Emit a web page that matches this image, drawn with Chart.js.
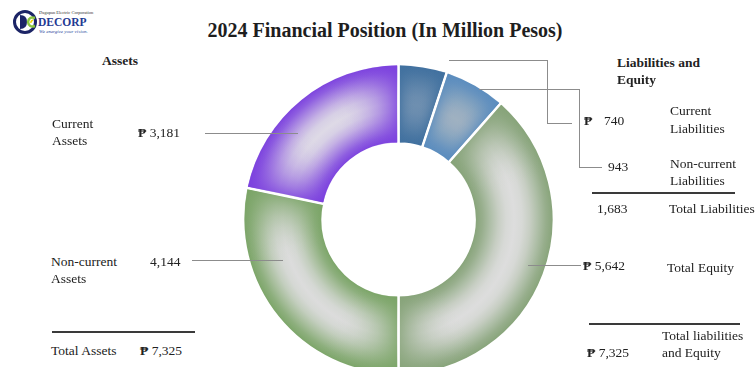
<!DOCTYPE html>
<html>
<head>
<meta charset="utf-8">
<script src="https://cdn.jsdelivr.net/npm/chart.js@4"></script>
<style>
    html, body { margin: 0; padding: 0; background: #fff; width: 756px; height: 367px; overflow: hidden; }
    body { position: relative; font-family: "Liberation Serif", "Times New Roman", serif; color: #222; }
    .t { position: absolute; font-size: 13.5px; line-height: 17px; white-space: nowrap; }
    .b { font-weight: bold; }
    .hl { position: absolute; height: 0; border-top: 1px solid #8c8c8c; }
    .vl { position: absolute; width: 0; border-left: 1px solid #8c8c8c; }
    .rule { position: absolute; height: 0; border-top: 2px solid #3a3a3a; }
    #title { position: absolute; left: 0; width: 770px; top: 18px; text-align: center; font-size: 20px; line-height: 24px; font-weight: bold; color: #1e1e1e; }
    #pie { position: absolute; left: 242px; top: 63px; width: 313px; height: 313px; }
    #logo { position: absolute; left: 13px; top: 9px; }
    .lg { position: absolute; white-space: nowrap; font-family: "Liberation Serif", serif; }
</style>
</head>
<body>
<svg id="logo" width="26" height="27" viewBox="0 0 26 27">
    <circle cx="12" cy="13" r="10.5" fill="#fff" stroke="#1c2466" stroke-width="3"/>
    <path d="M7 6 L7 20 Q14 20 14 13 Q14 6 7 6 Z" fill="#1c2466"/>
    <path d="M22 9 Q16 7 15 13 Q16 19 22 17" fill="none" stroke="#8cc63f" stroke-width="2.5"/>
    <path d="M20 11 Q17.5 12 18 14" fill="none" stroke="#f2d600" stroke-width="1.5"/>
</svg>
<div class="lg" style="left:39px;top:10px;font-size:4.5px;color:#333;">Dagupan Electric Corporation</div>
<div class="lg" style="left:38px;top:16px;font-size:11.5px;font-weight:bold;color:#1f3a93;line-height:12px;">DECORP</div>
<div class="lg" style="left:39px;top:29px;font-size:5px;font-style:italic;color:#2a4aa0;">We energize your vision.</div>

<div id="title">2024 Financial Position (In Million Pesos)</div>
<div id="pie"><canvas id="chart"></canvas></div>

<script>
// Slices run clockwise from 12 o'clock: liabilities and equity on the right, assets on the left
const sliceLabels = ['Current Liabilities', 'Non-current Liabilities', 'Total Equity', 'Non-current Assets', 'Current Assets'];
const sliceValues = [740, 943, 5642, 4144, 3181];
const edgeColors = ['#40709f', '#5a8cbe', '#86a378', '#7aa466', '#7b40de'];
const centerColors = ['#6e8fb0', '#9fb1c1', '#dddddd', '#dcdcdc', '#dedae6'];

const fmt = v => v.toLocaleString('en-US');
const currentLiab = sliceValues[0], nonCurrentLiab = sliceValues[1], equity = sliceValues[2];
const nonCurrentAssets = sliceValues[3], currentAssets = sliceValues[4];
const totalLiab = currentLiab + nonCurrentLiab;
const totalAssets = currentAssets + nonCurrentAssets;
const totalLiabEquity = totalLiab + equity;

function rgb(hex) {
    const n = parseInt(hex.slice(1), 16);
    return [n >> 16, (n >> 8) & 255, n & 255];
}
function mix(a, b, w) {
    const ca = rgb(a), cb = rgb(b);
    return `rgb(${ca.map((v, k) => Math.round(v + (cb[k] - v) * w)).join(',')})`;
}
function rgba(hex, a) {
    return `rgba(${rgb(hex).join(',')}, ${a})`;
}

// soft light band along the middle of the ring
function ringFill(context) {
    const i = context.dataIndex;
    const chart = context.chart;
    const area = chart.chartArea;
    if (i === undefined) return edgeColors[0];
    const ctrl = chart.getDatasetMeta(0).controller;
    if (!area || !ctrl.outerRadius) return edgeColors[i];
    const cx = (area.left + area.right) / 2, cy = (area.top + area.bottom) / 2;
    const g = chart.ctx.createRadialGradient(cx, cy, ctrl.innerRadius, cx, cy, ctrl.outerRadius);
    for (let s = 0; s <= 10; s++) {
        const t = s / 10;
        g.addColorStop(t, mix(edgeColors[i], centerColors[i], Math.pow(Math.sin(Math.PI * t), 1.4)));
    }
    return g;
}

// deepen the colour toward both ends of every slice
const endShade = {
    id: 'endShade',
    afterDatasetsDraw(chart) {
        const ctx = chart.ctx;
        const gap = 1.4;
        chart.getDatasetMeta(0).data.forEach((arc, i) => {
            const p = arc.getProps(['x', 'y', 'startAngle', 'endAngle', 'innerRadius', 'outerRadius'], true);
            const span = p.endAngle - p.startAngle;
            const frac = span / (2 * Math.PI);
            const fade = Math.min(span * 0.45, 0.55) / (2 * Math.PI);
            const g = ctx.createConicGradient(p.startAngle, p.x, p.y);
            for (let s = 0; s <= 6; s++) {
                const a = 0.85 * Math.pow(1 - s / 6, 2);
                g.addColorStop(fade * s / 6, rgba(edgeColors[i], a));
            }
            for (let s = 6; s >= 0; s--) {
                const a = 0.85 * Math.pow(1 - s / 6, 2);
                g.addColorStop(frac - fade * s / 6, rgba(edgeColors[i], a));
            }
            ctx.save();
            ctx.beginPath();
            ctx.arc(p.x, p.y, p.outerRadius - 1, p.startAngle + gap / p.outerRadius, p.endAngle - gap / p.outerRadius);
            ctx.arc(p.x, p.y, p.innerRadius + 1, p.endAngle - gap / p.innerRadius, p.startAngle + gap / p.innerRadius, true);
            ctx.closePath();
            ctx.fillStyle = g;
            ctx.fill();
            ctx.restore();
        });
    }
};

new Chart(document.getElementById('chart'), {
    type: 'doughnut',
    data: {
        labels: sliceLabels,
        datasets: [{
            data: sliceValues,
            backgroundColor: ringFill,
            borderColor: '#ffffff',
            borderWidth: 2.5
        }]
    },
    options: {
        responsive: true,
        maintainAspectRatio: false,
        animation: false,
        cutout: '49%',
        layout: { padding: 0 },
        plugins: {
            legend: { display: false },
            tooltip: { enabled: false }
        }
    },
    plugins: [endShade]
});

// side annotations
function put(html, x, baseline, cls) {
    const d = document.createElement('div');
    d.className = 't' + (cls ? ' ' + cls : '');
    d.style.left = x + 'px';
    d.style.top = (baseline - 13) + 'px';
    d.innerHTML = html;
    document.body.appendChild(d);
}
function hline(x1, x2, y, cls) {
    const d = document.createElement('div');
    d.className = cls || 'hl';
    d.style.left = x1 + 'px';
    d.style.top = y + 'px';
    d.style.width = (x2 - x1) + 'px';
    document.body.appendChild(d);
}
function vline(x, y1, y2) {
    const d = document.createElement('div');
    d.className = 'vl';
    d.style.left = x + 'px';
    d.style.top = y1 + 'px';
    d.style.height = (y2 - y1) + 'px';
    document.body.appendChild(d);
}
const peso = '<span class="b">&#8369;</span>';

// assets side
put('Assets', 102, 65, 'b');
put('Current', 52, 128);
put('Assets', 52, 145);
put(peso + ' ' + fmt(currentAssets), 138, 137);
hline(205, 298, 133);
put('Non-current', 51, 266);
put('Assets', 51, 283);
put(fmt(nonCurrentAssets), 150, 266);
hline(192, 283, 260);
hline(52, 195, 331, 'rule');
put('Total Assets', 51, 355);
put(peso + ' ' + fmt(totalAssets), 140, 355);

// liabilities and equity side
put('Liabilities and', 617, 67, 'b');
put('Equity', 617, 84, 'b');
hline(449, 547, 60);
vline(547, 60, 123);
hline(547, 572, 123);
put(peso, 584, 125);
put(fmt(currentLiab), 604, 125);
put('Current', 670, 115);
put('Liabilities', 670, 133);
hline(479, 579, 89);
vline(579, 89, 167);
hline(579, 602, 167);
put(fmt(nonCurrentLiab), 608, 171);
put('Non-current', 670, 168);
put('Liabilities', 670, 185);
hline(592, 735, 192, 'rule');
put(fmt(totalLiab), 597, 213);
put('Total Liabilities', 669, 213);
hline(528, 581, 265);
put(peso + ' ' + fmt(equity), 583, 270);
put('Total Equity', 667, 272);
hline(589, 740, 323, 'rule');
put('Total liabilities', 662, 340);
put('and Equity', 662, 357);
put(peso + ' ' + fmt(totalLiabEquity), 587, 357);
</script>
</body>
</html>
